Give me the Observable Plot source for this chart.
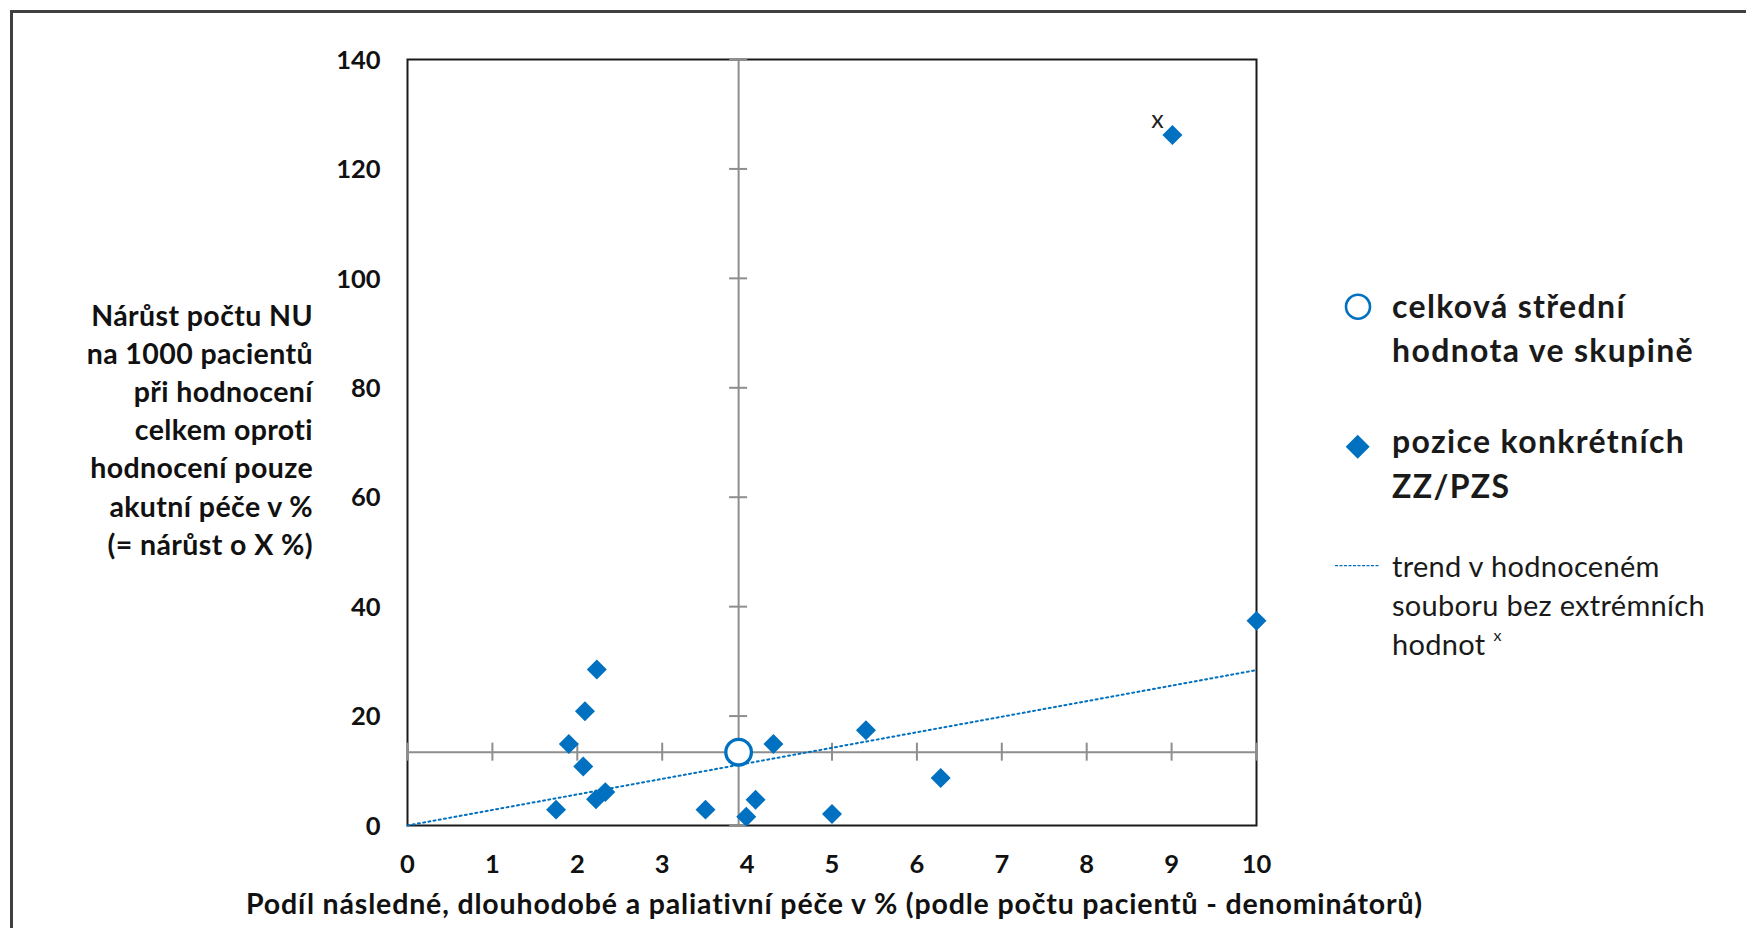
<!DOCTYPE html>
<html><head><meta charset="utf-8">
<script src="https://cdn.jsdelivr.net/npm/d3@7"></script>
<script src="https://cdn.jsdelivr.net/npm/@observablehq/plot@0.6"></script>
<style>
html,body{margin:0;padding:0;background:#fff;overflow:hidden}
#wrap{position:relative;width:1746px;height:928px;overflow:hidden;background:#fff}
#border{position:absolute;left:9.5px;top:9.5px;width:3000px;height:3000px;border:3px solid #404040;box-sizing:border-box}
#chart{position:absolute;left:0;top:0}
#overlay{position:absolute;left:0;top:0;pointer-events:none}
</style>
</head><body>
<div id="wrap"><div id="border"></div><div id="chart"></div><svg id="overlay" width="1746" height="928"></svg></div>
<script>
// ---- data ----
const facilityX = [2.23, 2.09, 1.90, 2.07, 2.22, 2.33, 1.75, 3.51, 3.99, 4.10, 4.31, 5.40, 6.28, 5.00, 10.0, 9.01];
const facilityY = [28.5, 20.9, 14.9, 10.8, 4.8, 6.1, 2.9, 2.9, 1.6, 4.7, 14.9, 17.4, 8.7, 2.1, 37.4, 126.2];
const meanX = [3.9];
const meanY = [13.4];
const trendX = [0, 10];
const trendY = [0, 28.4];
const outlierX = [9.01];
const outlierY = [126.2];
const outlierText = ["x"];
const xTicks = [0, 1, 2, 3, 4, 5, 6, 7, 8, 9, 10];
const yTicks = [0, 20, 40, 60, 80, 100, 120, 140];
const yTitleLines = ["Nárůst počtu NU", "na 1000 pacientů", "při hodnocení", "celkem oproti", "hodnocení pouze", "akutní péče v %", "(= nárůst o X %)"];
const xTitle = "Podíl následné, dlouhodobé a paliativní péče v % (podle počtu pacientů - denominátorů)";
const legendMean = ["celková střední", "hodnota ve skupině"];
const legendPoints = ["pozice konkrétních", "ZZ/PZS"];
const legendTrend = ["trend v hodnoceném", "souboru bez extrémních", "hodnot"];

const facilities = facilityX.map((x, i) => ({x, y: facilityY[i]}));
const mean = meanX.map((x, i) => ({x, y: meanY[i]}));
const trend = trendX.map((x, i) => ({x, y: trendY[i]}));
const outliers = outlierX.map((x, i) => ({x, y: outlierY[i], t: outlierText[i]}));

const BLUE = "#0070c0";
const GRAY = "#8e8e8e";
const FONT = "Lato, 'Open Sans', sans-serif";

const chart = Plot.plot({
  width: 1746,
  height: 928,
  marginLeft: 407,
  marginTop: 59,
  marginRight: 490,
  marginBottom: 103,
  style: {fontFamily: FONT, background: "transparent", color: "#111"},
  x: {domain: [0, 10]},
  y: {domain: [0, 140]},
  marks: [
    Plot.frame({stroke: "#1a1a1a", strokeWidth: 2}),
    Plot.ruleX(meanX, {x: d => d, stroke: GRAY, strokeWidth: 2}),
    Plot.ruleY(meanY, {y: d => d, stroke: GRAY, strokeWidth: 2}),
    Plot.ruleX(xTicks, {x: d => d, y1: () => meanY[0], y2: () => meanY[0], insetTop: -9, insetBottom: -9, stroke: GRAY, strokeWidth: 2}),
    Plot.ruleY(yTicks, {y: d => d, x1: () => meanX[0], x2: () => meanX[0], insetLeft: -9, insetRight: -9, stroke: GRAY, strokeWidth: 2}),
    Plot.line(trend, {x: "x", y: "y", stroke: BLUE, strokeWidth: 2, strokeDasharray: "2 3.3"}),
    Plot.dot(facilities, {x: "x", y: "y", symbol: "diamond2", r: 9, fill: BLUE}),
    Plot.dot(mean, {x: "x", y: "y", r: 12.8, fill: "white", stroke: BLUE, strokeWidth: 3.3}),
    Plot.text(outliers, {x: "x", y: "y", text: "t", dx: -15, dy: -15, fontSize: 25, fill: "#222"}),
    Plot.axisX(xTicks, {tickSize: 0, tickPadding: 29, fontSize: 25.5, fontWeight: "bold", label: null}),
    Plot.axisY(yTicks, {tickSize: 0, tickPadding: 27, fontSize: 25.5, fontWeight: "bold", label: null, dy: 1})
  ]
});
document.getElementById("chart").appendChild(chart);

// ---- overlay: titles and legend ----
const ov = d3.select("#overlay").style("font-family", FONT);
ov.append("g").selectAll("text").data(yTitleLines).join("text")
  .attr("x", 313).attr("y", (d, i) => 325.5 + 38.2 * i)
  .attr("text-anchor", "end").attr("font-size", 28.5).attr("letter-spacing", 0.4)
  .attr("font-weight", "bold").attr("fill", "#111")
  .text(d => d);
ov.append("text").attr("x", 834.5).attr("y", 914).attr("text-anchor", "middle")
  .attr("font-size", 28.5).attr("letter-spacing", 0.84)
  .attr("font-weight", "bold").attr("fill", "#111").text(xTitle);

// legend
ov.append("circle").attr("cx", 1358).attr("cy", 306.7).attr("r", 12).attr("fill", "white")
  .attr("stroke", BLUE).attr("stroke-width", 2.6);
ov.append("g").selectAll("text").data(legendMean).join("text")
  .attr("x", 1392).attr("y", (d, i) => 318 + 43.7 * i)
  .attr("font-size", 32).attr("letter-spacing", 1.35)
  .attr("font-weight", "bold").attr("fill", "#1a1a1a").text(d => d);
ov.append("path").attr("d", "M1357.7,434.7L1369.7,446.7L1357.7,458.7L1345.7,446.7Z").attr("fill", BLUE);
ov.append("g").selectAll("text").data(legendPoints).join("text")
  .attr("x", 1392).attr("y", (d, i) => 453.3 + 45 * i)
  .attr("font-size", 32).attr("letter-spacing", 1.35)
  .attr("font-weight", "bold").attr("fill", "#1a1a1a").text(d => d);
ov.append("line").attr("x1", 1335).attr("x2", 1380).attr("y1", 565.7).attr("y2", 565.7)
  .attr("stroke", BLUE).attr("stroke-width", 1.3).attr("stroke-dasharray", "3 1.5");
const lt = ov.append("g").selectAll("text").data(legendTrend).join("text")
  .attr("x", 1392).attr("y", (d, i) => 577 + 39 * i)
  .attr("font-size", 29).attr("letter-spacing", 0.3).attr("fill", "#1a1a1a").text(d => d);
lt.filter((d, i) => i === 2).append("tspan").attr("dx", 8).attr("dy", -14).attr("font-size", 16).text("x");
</script>
</body></html>
